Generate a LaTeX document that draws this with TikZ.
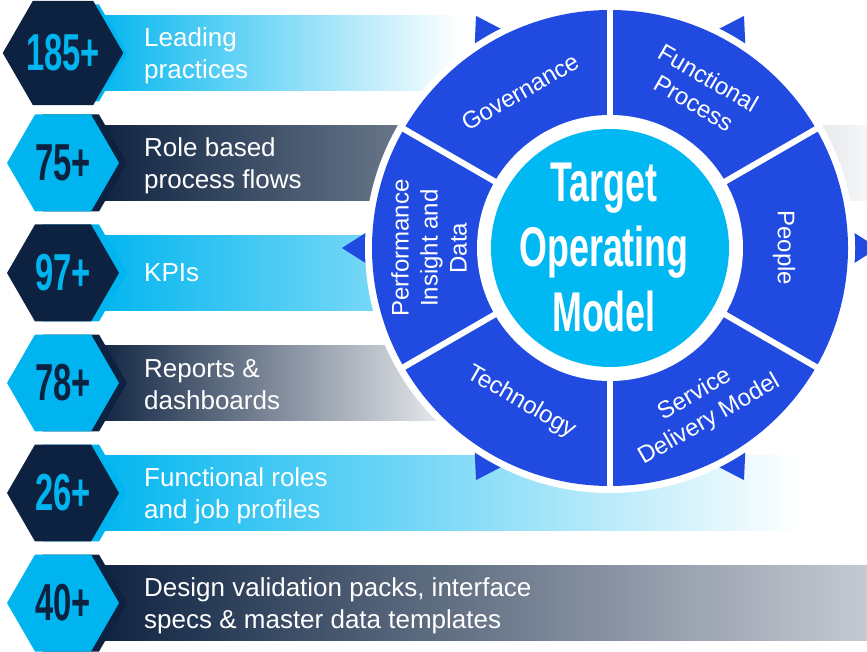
\documentclass[tikz,border=0pt]{standalone}
\usepackage{fontspec}
\setmainfont{Liberation Sans}
\usetikzlibrary{shapes.geometric}

\definecolor{navy}{RGB}{13,34,64}
\definecolor{sky}{RGB}{0,181,239}
\definecolor{core}{RGB}{0,184,242}
\definecolor{royal}{RGB}{33,75,224}
\definecolor{mist}{RGB}{197,202,210}

\newcommand{\narrow}[1]{\scalebox{0.63}[1]{#1}}

\tikzset{
  hexa/.style={regular polygon, regular polygon sides=6, minimum size=112pt, inner sep=0pt},
  count/.style={font=\bfseries\fontsize{52}{52}\selectfont},
  rowtext/.style={anchor=west, align=left, inner sep=0pt, text=white, font=\fontsize{26}{32}\selectfont},
  seglabel/.style={text=white, align=center, inner sep=1pt, font=\fontsize{24}{29}\selectfont},
}

\begin{document}
\begin{tikzpicture}[x=1pt, y=1pt]
    \useasboundingbox (0,0) rectangle (867,651);

    % rows: centre y / hexagon / bar / bar end colour / bar end x / text shift / count / text
    \foreach \yc/\hc/\bc/\ec/\xe/\dy/\cnt/\txt [count=\i] in {
        598/navy/sky/white/460/-3/185+/{Leading\\practices},
        488/sky/navy/white/900/-3/75+/{Role based\\process flows},
        378/navy/sky/white/700/0/97+/{KPIs},
        268/sky/navy/white/480/-2/78+/{Reports \&\\dashboards},
        158/navy/sky/white/800/-3/26+/{Functional roles\\and job profiles},
        48/sky/navy/mist/867/-3/40+/{Design validation packs, interface\\specs \& master data templates}} {
        \shade[left color=\bc, right color=\ec] (93,\yc-37.5) rectangle (\xe,\yc+37.5);
        \node[hexa, fill=\bc] (back\i) at (71,\yc) {};
        \node[hexa, count, fill=\hc, text=\bc] (hex\i) at (63,\yc) {\narrow{\cnt}};
        \node[rowtext] (label\i) at (144,\yc+\dy) {\txt};
    }

    % the wheel
    \coordinate (c) at (610,403);
    \foreach \a in {0,60,...,300}
        \fill[royal, shift={(c)}, rotate=\a] (268,0) -- (232,23) -- (232,-23) -- cycle;
    \fill[white] (c) circle (245);
    \fill[royal] (c) circle (238);
    \fill[white] (c) circle (133);
    \foreach \a in {30,90,...,330}
        \draw[white, line width=6pt, shift={(c)}] (\a:125) -- (\a:242);

    \node[circle, fill=core, minimum size=238pt, inner sep=0pt] (hub) at (c) {};
    \node[text=white, align=center, font=\bfseries\fontsize{56}{65}\selectfont] (tom) at ([xshift=-6]c)
          {\scalebox{0.64}[1]{Target}\\\scalebox{0.64}[1]{Operating}\\\scalebox{0.64}[1]{Model}};

    \node[seglabel, rotate=30]  (gov) at ([shift={(120:180)}]c) {Governance};
    \node[seglabel, rotate=-30] (fun) at ([shift={(60:182)}]c) {Functional\\Process};
    \node[seglabel, rotate=-90] (peo) at ([shift={(0:174)}]c) {People};
    \node[seglabel, rotate=30]  (sdm) at ([shift={(-60:184)}]c) {Service\\Delivery Model};
    \node[seglabel, rotate=-30] (tec) at ([shift={(-120:178)}]c) {Technology};
    \node[seglabel, rotate=90]  (pid) at ([shift={(180:181)}]c) {Performance\\Insight and\\Data};
\end{tikzpicture}
\end{document}
